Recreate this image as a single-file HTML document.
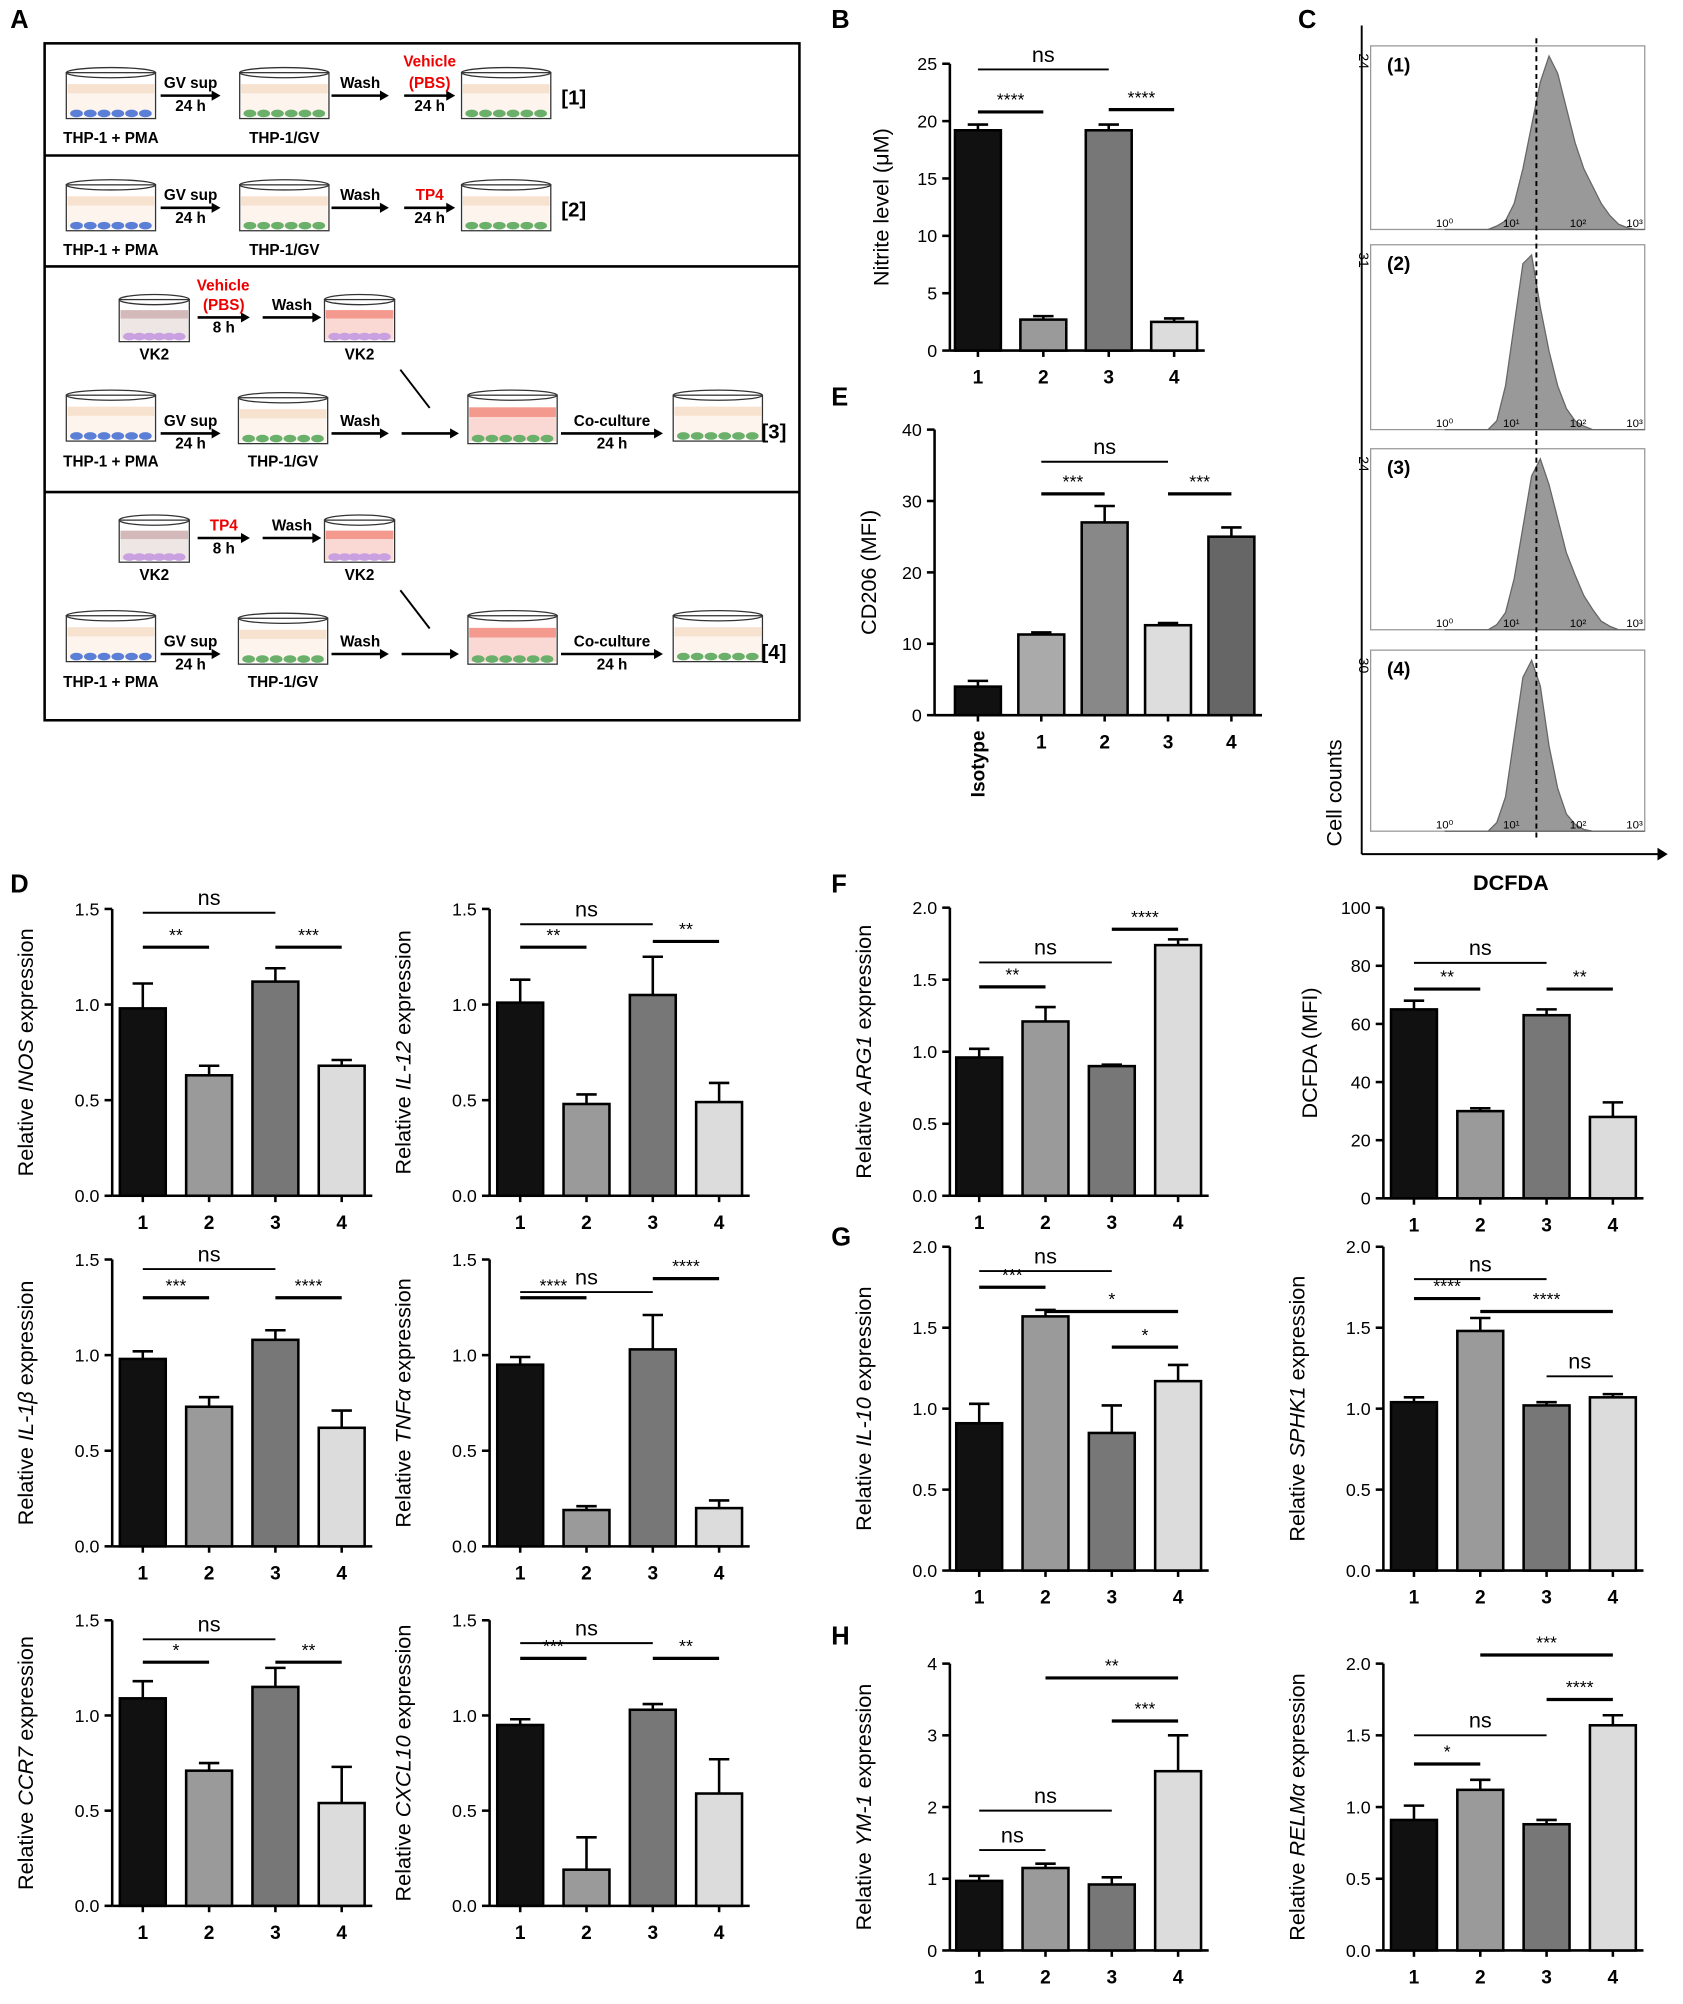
<!DOCTYPE html>
<html><head><meta charset="utf-8"><style>
html,body{margin:0;padding:0;background:#fff}
svg{display:block;font-family:"Liberation Sans",Arial,sans-serif}
</style></head><body>
<svg id="fig" width="1683" height="2004" viewBox="0 0 1320 1572" preserveAspectRatio="none" xmlns="http://www.w3.org/2000/svg"></svg>
<script>
// ---------- data ----------
const cats4 = ['1','2','3','4'];
const catsE = ['Isotype','1','2','3','4'];
const nitriteVals = [19.2, 2.7, 19.2, 2.5];
const nitriteErrs = [0.5, 0.3, 0.5, 0.3];
const cd206Vals = [4, 11.3, 27, 12.6, 25];
const cd206Errs = [0.8, 0.3, 2.3, 0.3, 1.3];
const inosVals = [0.98, 0.63, 1.12, 0.68];  const inosErrs = [0.13, 0.05, 0.07, 0.03];
const il12Vals = [1.01, 0.48, 1.05, 0.49];  const il12Errs = [0.12, 0.05, 0.2, 0.1];
const il1bVals = [0.98, 0.73, 1.08, 0.62];  const il1bErrs = [0.04, 0.05, 0.05, 0.09];
const tnfVals = [0.95, 0.19, 1.03, 0.2];    const tnfErrs = [0.04, 0.02, 0.18, 0.04];
const ccr7Vals = [1.09, 0.71, 1.15, 0.54];  const ccr7Errs = [0.09, 0.04, 0.1, 0.19];
const cxcl10Vals = [0.95, 0.19, 1.03, 0.59]; const cxcl10Errs = [0.03, 0.17, 0.03, 0.18];
const arg1Vals = [0.96, 1.21, 0.9, 1.74];   const arg1Errs = [0.06, 0.1, 0.01, 0.04];
const dcfdaVals = [65, 30, 63, 28];         const dcfdaErrs = [3, 1, 2, 5];
const il10Vals = [0.91, 1.57, 0.85, 1.17];  const il10Errs = [0.12, 0.04, 0.17, 0.1];
const sphk1Vals = [1.04, 1.48, 1.02, 1.07]; const sphk1Errs = [0.03, 0.08, 0.02, 0.02];
const ym1Vals = [0.97, 1.15, 0.92, 2.5];    const ym1Errs = [0.07, 0.06, 0.1, 0.5];
const relmVals = [0.91, 1.12, 0.88, 1.57];  const relmErrs = [0.1, 0.07, 0.03, 0.07];
const ticks15 = [0, 0.5, 1.0, 1.5];
const ticks20 = [0, 0.5, 1.0, 1.5, 2.0];
const ticksNitrite = [0, 5, 10, 15, 20, 25];
const ticksCD206 = [0, 10, 20, 30, 40];
const ticksDCFDA = [0, 20, 40, 60, 80, 100];
const ticksYM1 = [0, 1, 2, 3, 4];
// histogram densities (flow panels 1-4), 24 bins across log10 0..3
const hist1 = [0,0,0,0,0,0,0.02,0.05,0.15,0.35,0.6,0.85,1.0,0.9,0.7,0.5,0.35,0.25,0.15,0.08,0.03,0.01,0,0];
const hist2 = [0,0,0,0,0,0,0.05,0.25,0.6,0.95,1.0,0.7,0.45,0.25,0.12,0.05,0.02,0,0,0,0,0,0,0];
const hist3 = [0,0,0,0,0,0,0.03,0.1,0.3,0.6,0.9,1.0,0.85,0.65,0.45,0.32,0.2,0.12,0.05,0.02,0,0,0,0];
const hist4 = [0,0,0,0,0,0,0.05,0.2,0.55,0.9,1.0,0.85,0.5,0.25,0.1,0.04,0.01,0,0,0,0,0,0,0];
const histMax = ['24','31','24','30'];

const NS='http://www.w3.org/2000/svg';
const svg=document.getElementById('fig');
function el(tag,attrs,parent){const e=document.createElementNS(NS,tag);for(const k in attrs)e.setAttribute(k,attrs[k]);(parent||svg).appendChild(e);return e;}
function txt(x,y,s,attrs,parent){const t=el('text',Object.assign({x:x,y:y,'font-size':15,'text-anchor':'middle'},attrs||{}),parent);t.textContent=s;return t;}

// ---------- bar chart ----------
function barChart(o){
  const g=el('g',{});
  
  
  const ys=v=>o.bot-(v/o.max)*(o.bot-o.top);
  const xc=i=>o.x0+i*o.dx;
  const bw=o.bw||36;
  // axes
  const ya=el('line',{x1:o.ax,y1:o.top,x2:o.ax,y2:o.bot,stroke:'#000','stroke-width':2},g);
  
  const xEnd=xc(o.vals.length-1)+bw/2+6;
  const xa=el('line',{x1:o.ax,y1:o.bot,x2:xEnd,y2:o.bot,stroke:'#000','stroke-width':2},g);
  
  o.ticks.forEach(t=>{
    const y=ys(t);
    el('line',{x1:o.ax-6,y1:y,x2:o.ax,y2:y,stroke:'#000','stroke-width':2},g);
    const lab=txt(o.ax-10,y+5,o.fmt?o.fmt(t):String(t),{'text-anchor':'end','font-size':14},g);
    
  });
  o.vals.forEach((v,i)=>{
    const x=xc(i);
    const r=el('rect',{x:x-bw/2,y:ys(v),width:bw,height:o.bot-ys(v),fill:o.colors[i],stroke:'#000','stroke-width':2},g);
    
    
    const e=o.errs[i];
    el('line',{x1:x,y1:ys(v),x2:x,y2:ys(v+e),stroke:'#000','stroke-width':2},g);
    el('line',{x1:x-8,y1:ys(v+e),x2:x+8,y2:ys(v+e),stroke:'#000','stroke-width':2},g);
    el('line',{x1:x,y1:o.bot,x2:x,y2:o.bot+5,stroke:'#000','stroke-width':2},g);
    let lab;
    if(o.cats[i].length>2){lab=txt(0,0,o.cats[i],{'font-size':15,'font-weight':'bold','text-anchor':'end',transform:`translate(${x+5},${o.bot+12}) rotate(-90)`},g);}
    else lab=txt(x,o.bot+26,o.cats[i],{'font-size':15,'font-weight':'bold'},g);
    
  });
  (o.sigs||[]).forEach(s=>{
    const y=ys(s[2]);
    el('line',{x1:xc(s[0]),y1:y,x2:xc(s[1]),y2:y,stroke:'#000','stroke-width':s[3]==='ns'?1.5:2.5},g);
    const t=txt((xc(s[0])+xc(s[1]))/2,s[3]==='ns'?y-6:y-5,s[3],{'font-size':s[3]==='ns'?17:14},g);
    
  });
  const my=(o.top+o.bot)/2, tx=o.ax-(o.tOff||58);
  const t=el('text',{transform:`translate(${tx},${my}) rotate(-90)`,'text-anchor':'middle','font-size':17},g);
  
  o.title.forEach(p=>{const ts=el('tspan',p[1]?{'font-style':'italic'}:{},t);ts.textContent=p[0];});
}
const C4=['#111','#9a9a9a','#777','#dcdcdc'];
const XD=[112,163,215,267], XD2=[408,460,512,564];

barChart({name:'nitrite-chart',ax:745,top:50,bot:275,max:25,ticks:ticksNitrite,x0:767,dx:51.3,vals:nitriteVals,errs:nitriteErrs,cats:cats4,colors:C4,title:[['Nitrite level (μM)']],tOff:48,
  sigs:[[0,1,20.8,'****'],[0,2,24.5,'ns'],[2,3,21,'****']]});
barChart({name:'cd206-chart',ax:733,top:337,bot:561,max:40,ticks:ticksCD206,x0:767,dx:49.7,vals:cd206Vals,errs:cd206Errs,cats:catsE,colors:['#111','#aaa','#888','#ddd','#666'],title:[['CD206 (MFI)']],tOff:46,
  sigs:[[1,2,31,'***'],[1,3,35.5,'ns'],[3,4,31,'***']]});
const f1=v=>v.toFixed(1);
const D=[
 ['inos-chart',88,713,938,1.5,ticks15,112,inosVals,inosErrs,'INOS',[[0,1,1.3,'**'],[0,2,1.48,'ns'],[2,3,1.3,'***']]],
 ['il12-chart',384,713,938,1.5,ticks15,408,il12Vals,il12Errs,'IL-12',[[0,1,1.3,'**'],[0,2,1.42,'ns'],[2,3,1.33,'**']]],
 ['il1b-chart',88,988,1213,1.5,ticks15,112,il1bVals,il1bErrs,'IL-1β',[[0,1,1.3,'***'],[0,2,1.45,'ns'],[2,3,1.3,'****']]],
 ['tnfa-chart',384,988,1213,1.5,ticks15,408,tnfVals,tnfErrs,'TNFα',[[0,1,1.3,'****'],[0,2,1.33,'ns'],[2,3,1.4,'****']]],
 ['ccr7-chart',88,1271,1495,1.5,ticks15,112,ccr7Vals,ccr7Errs,'CCR7',[[0,1,1.28,'*'],[0,2,1.4,'ns'],[2,3,1.28,'**']]],
 ['cxcl10-chart',384,1271,1495,1.5,ticks15,408,cxcl10Vals,cxcl10Errs,'CXCL10',[[0,1,1.3,'***'],[0,2,1.38,'ns'],[2,3,1.3,'**']]],
 ['arg1-chart',745,712,938,2.0,ticks20,768,arg1Vals,arg1Errs,'ARG1',[[0,1,1.45,'**'],[0,2,1.62,'ns'],[2,3,1.85,'****']]],
 ['il10-chart',745,978,1232,2.0,ticks20,768,il10Vals,il10Errs,'IL-10',[[0,1,1.75,'***'],[0,2,1.85,'ns'],[1,3,1.6,'*'],[2,3,1.38,'*']]],
 ['sphk1-chart',1085,978,1232,2.0,ticks20,1109,sphk1Vals,sphk1Errs,'SPHK1',[[0,1,1.68,'****'],[0,2,1.8,'ns'],[1,3,1.6,'****'],[2,3,1.2,'ns']]],
 ['ym1-chart',745,1305,1530,4,ticksYM1,768,ym1Vals,ym1Errs,'YM-1',[[0,1,1.4,'ns'],[0,2,1.95,'ns'],[1,3,3.8,'**'],[2,3,3.2,'***']]],
 ['relma-chart',1085,1305,1530,2.0,ticks20,1109,relmVals,relmErrs,'RELMα',[[0,1,1.3,'*'],[0,2,1.5,'ns'],[1,3,2.06,'***'],[2,3,1.75,'****']]]
];
D.forEach(d=>barChart({name:d[0],ax:d[1],top:d[2],bot:d[3],max:d[4],ticks:d[5],x0:d[6],dx:52,vals:d[7],errs:d[8],cats:cats4,colors:C4,
  fmt:d[4]===4?null:f1,title:[['Relative '],[d[9],true],[' expression']],sigs:d[10],tOff:62}));
barChart({name:'dcfda-mfi-chart',ax:1085,top:712,bot:940,max:100,ticks:ticksDCFDA,x0:1109,dx:52,vals:dcfdaVals,errs:dcfdaErrs,cats:cats4,colors:C4,title:[['DCFDA (MFI)']],tOff:52,
  sigs:[[0,1,72,'**'],[0,2,81,'ns'],[2,3,72,'**']]});

// ---------- panel C histograms ----------
(function(){
  const g=el('g',{});
  const panels=[[36,180],[192,337],[352,494],[510,652]];
  const hs=[hist1,hist2,hist3,hist4];
  const xl=1075,xr=1290;
  const xs=d=>xl+58+d*(xr-xl-58)/3; // decade to x
  el('line',{x1:1068,y1:20,x2:1068,y2:670,stroke:'#000','stroke-width':1.5},g);
  el('line',{x1:1068,y1:670,x2:1300,y2:670,stroke:'#000','stroke-width':1.5},g);
  el('path',{d:'M1300,665 L1308,670 L1300,675 Z',fill:'#000'},g);
  panels.forEach((p,k)=>{
    el('rect',{x:xl,y:p[0],width:xr-xl,height:p[1]-p[0],fill:'none',stroke:'#999','stroke-width':1},g);
    const h=hs[k], n=h.length;
    let d=`M${xs(0)},${p[1]}`;
    h.forEach((v,i)=>{d+=` L${xs(i*3/(n-1))},${p[1]-v*(p[1]-p[0]-8)}`;});
    d+=` L${xs(3)},${p[1]} Z`;
    const pa=el('path',{d:d,fill:'#999',stroke:'#666','stroke-width':1},g);
    
    txt(0,0,histMax[k],{'font-size':11,transform:`translate(1066,${p[0]+12}) rotate(90)`},g);
    txt(xl+22,p[0]+20,'('+(k+1)+')',{'font-size':15,'font-weight':'bold'},g);
    ['10⁰','10¹','10²','10³'].forEach((s,i)=>txt(xs(i)-(i===3?8:0),p[1]-2,s,{'font-size':9},g));
  });
  el('line',{x1:1205,y1:30,x2:1205,y2:660,stroke:'#000','stroke-width':1.5,'stroke-dasharray':'4,3'},g);
  txt(0,0,'Cell counts',{'font-size':17,transform:'translate(1052,622) rotate(-90)'},g);
  txt(1185,698,'DCFDA',{'font-size':17,'font-weight':'bold'},g);
})();

// ---------- panel A schematic ----------
(function(){
  const g=el('g',{});
  el('rect',{x:35,y:34,width:592,height:531,fill:'none',stroke:'#000','stroke-width':2},g);
  [122,209,386].forEach(y=>el('line',{x1:35,y1:y,x2:627,y2:y,stroke:'#000','stroke-width':2},g));
  function dish(cx,top,w,h,cells,liquid){
    el('rect',{x:cx-w/2,y:top,width:w,height:h,fill:'#fff',stroke:'#333','stroke-width':1},g);
    el('rect',{x:cx-w/2+1,y:top+h*0.25,width:w-2,height:h*0.2,fill:liquid,opacity:0.8},g);
    el('rect',{x:cx-w/2+1,y:top+h*0.45,width:w-2,height:h*0.5,fill:liquid,opacity:0.3},g);
    el('ellipse',{cx:cx,cy:top,rx:w/2,ry:4,fill:'none',stroke:'#333','stroke-width':1},g);
    for(let i=0;i<6;i++)el('ellipse',{cx:cx-w/2+8+i*(w-16)/5,cy:top+h-4,rx:5,ry:3,fill:cells},g);
  }
  function arrow(x1,y,x2,lab1,lab2,red1){
    el('line',{x1:x1,y1:y,x2:x2-6,y2:y,stroke:'#000','stroke-width':2},g);
    el('path',{d:`M${x2-7},${y-4} L${x2},${y} L${x2-7},${y+4}Z`,fill:'#000'},g);
    if(lab1)txt((x1+x2)/2,y-6,lab1,{'font-size':12,'font-weight':'bold',fill:red1?'#e00':'#000'},g);
    if(lab2)txt((x1+x2)/2,y+12,lab2,{'font-size':12,'font-weight':'bold'},g);
  }
  const blue='#5b7fd6',green='#6ab06a',beige='#f5d9c3';
  [[0,'Vehicle','(PBS)','[1]'],[88,'TP4',null,'[2]']].forEach(r=>{
    const o=r[0];
    dish(87,o+57,70,36,blue,beige);dish(223,o+57,70,36,green,beige);dish(397,o+57,70,36,green,beige);
    txt(87,o+112,'THP-1 + PMA',{'font-size':12,'font-weight':'bold'},g);
    txt(223,o+112,'THP-1/GV',{'font-size':12,'font-weight':'bold'},g);
    arrow(126,o+75,173,'GV sup','24 h');arrow(260,o+75,305,'Wash');
    if(r[2]){txt(337,o+52,r[1],{'font-size':12,'font-weight':'bold',fill:'#e00'},g);arrow(317,o+75,357,r[2],'24 h',true);}
    else arrow(317,o+75,357,r[1],'24 h',true);
    txt(450,o+82,r[3],{'font-size':16,'font-weight':'bold'},g);
  });
  [[0,'Vehicle','(PBS)','[3]'],[173,'TP4',null,'[4]']].forEach(r=>{
    const o=r[0];
    dish(121,o+235,55,33,'#c9a0e0','#c8a8a8');dish(282,o+235,55,33,'#c9a0e0','#f08070');
    txt(121,o+282,'VK2',{'font-size':12,'font-weight':'bold'},g);txt(282,o+282,'VK2',{'font-size':12,'font-weight':'bold'},g);
    if(r[2]){txt(175,o+228,r[1],{'font-size':12,'font-weight':'bold',fill:'#e00'},g);arrow(155,o+249,196,r[2],'8 h',true);}
    else arrow(155,o+249,196,r[1],'8 h',true);
    arrow(206,o+249,252,'Wash');
    el('line',{x1:314,y1:o+290,x2:337,y2:o+320,stroke:'#000','stroke-width':1.5},g);
    dish(87,o+310,70,36,blue,beige);dish(222,o+312,70,36,green,beige);
    txt(87,o+366,'THP-1 + PMA',{'font-size':12,'font-weight':'bold'},g);
    txt(222,o+366,'THP-1/GV',{'font-size':12,'font-weight':'bold'},g);
    arrow(126,o+340,173,'GV sup','24 h');arrow(260,o+340,305,'Wash');arrow(315,o+340,360);
    dish(402,o+310,70,38,green,'#f08070');
    arrow(440,o+340,520,'Co-culture','24 h');
    dish(563,o+310,70,36,green,beige);
    txt(607,o+344,r[3],{'font-size':16,'font-weight':'bold'},g);
  });
})();

// ---------- panel letters ----------
[['A',8,22],['B',652,22],['C',1018,22],['E',652,318],['D',8,700],['F',652,700],['G',652,977],['H',652,1290]].forEach(p=>{
  const t=txt(p[1],p[2],p[0],{'font-size':20,'font-weight':'bold','text-anchor':'start'});
  
  
});
</script>
</body></html>
